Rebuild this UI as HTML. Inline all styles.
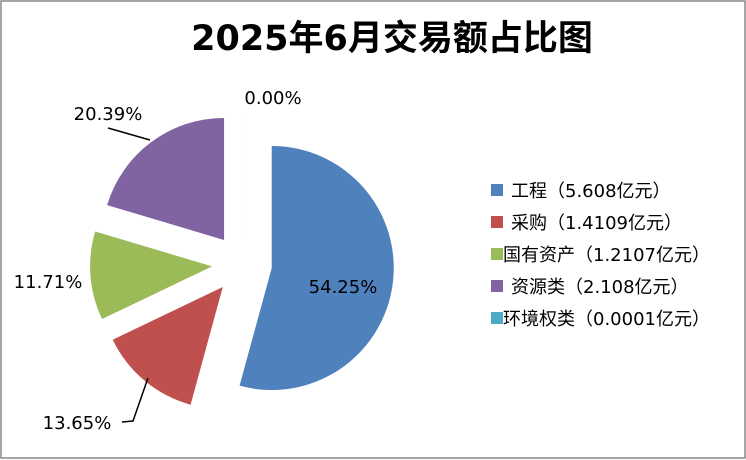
<!DOCTYPE html>
<html><head><meta charset="utf-8"><style>
body{margin:0;background:#fff}
svg{display:block;font-family:"Liberation Sans","DejaVu Sans","Noto Sans CJK SC",sans-serif}
</style></head><body>
<svg id="chart" width="746" height="460" viewBox="0 0 746 460">
<rect x="1" y="1" width="744" height="457" fill="#fff" stroke="#888" stroke-width="1.5"/>
<text x="392" y="50" text-anchor="middle" font-size="35" font-weight="bold" font-family="'DejaVu Sans','Noto Sans CJK SC',sans-serif">2025年6月交易额占比图</text>
<g id="slices"></g>
<g id="labels"></g>
<g id="legend"></g>
</svg>
<script>
const categories = ["工程","采购","国有资产","资源类","环境权类"];
const values = [5.608, 1.4109, 1.2107, 2.108, 0.0001];
const valueLabels = ["5.608","1.4109","1.2107","2.108","0.0001"];
const pctLabels = ["54.25%","13.65%","11.71%","20.39%","0.00%"];
const colors = ["#4f81bd","#c0504d","#9bbb59","#8064a2","#4bacc6"];
const NS="http://www.w3.org/2000/svg";
const cx=242, cy=264, r=122, d=30;
const total=values.reduce((a,b)=>a+b,0);
const gS=document.getElementById('slices'), gL=document.getElementById('labels'), gG=document.getElementById('legend');
function pt(ox,oy,rad,a){return [ox+rad*Math.sin(a), oy-rad*Math.cos(a)];}
let acc=0;
const labelPos=[[343,293,null],[77,429,[[122,422],[133,421],[148,378]]],[48,288,null],[108,120,[[108,128],[150,140]]],[273,104,null]];
values.forEach((v,i)=>{
  const a0=acc/total*2*Math.PI; acc+=v; const a1=acc/total*2*Math.PI;
  const am=(a0+a1)/2;
  const ox=cx+d*Math.sin(am), oy=cy-d*Math.cos(am);
  const p0=pt(ox,oy,r,a0), p1=pt(ox,oy,r,a1);
  const large=(a1-a0)>Math.PI?1:0;
  const path=document.createElementNS(NS,'path');
  path.setAttribute('d',`M${ox},${oy}L${p0[0]},${p0[1]}A${r},${r} 0 ${large} 1 ${p1[0]},${p1[1]}Z`);
  path.setAttribute('fill',colors[i]);
  
  
  gS.appendChild(path);
  const lp=labelPos[i];
  if(lp[2]){
    const pl=document.createElementNS(NS,'polyline');
    pl.setAttribute('points',lp[2].map(p=>p.join(',')).join(' '));
    pl.setAttribute('fill','none');pl.setAttribute('stroke','#000');pl.setAttribute('stroke-width','1.5');
    
    
    gL.appendChild(pl);
  }
  const t=document.createElementNS(NS,'text');
  t.setAttribute('x',lp[0]);t.setAttribute('y',lp[1]);t.setAttribute('text-anchor','middle');t.setAttribute('font-size','18');
  t.setAttribute('font-family',"'DejaVu Sans',sans-serif");
  t.textContent=pctLabels[i];
  
  
  gL.appendChild(t);
  const ly=190+i*32;
  const sq=document.createElementNS(NS,'rect');
  sq.setAttribute('x',491);sq.setAttribute('y',ly-6);sq.setAttribute('width',12);sq.setAttribute('height',12);sq.setAttribute('fill',colors[i]);
  
  
  gG.appendChild(sq);
  const lt=document.createElementNS(NS,'text');
  lt.setAttribute('x',categories[i].length>3?503:511);lt.setAttribute('y',ly+7);lt.setAttribute('font-size','18');
  lt.setAttribute('font-family',"'DejaVu Sans','Noto Sans CJK SC',sans-serif");
  lt.textContent=categories[i]+'（'+valueLabels[i]+'亿元）';
  
  
  gG.appendChild(lt);
});
</script>
</body></html>
